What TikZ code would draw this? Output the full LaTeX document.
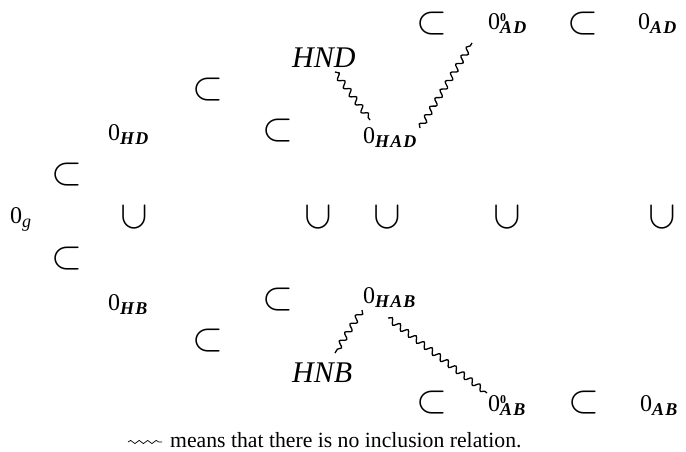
\documentclass[tikz,border=0pt]{standalone}
\usepackage{fontspec}
\setmainfont{Liberation Serif}
\usepackage{tikz}
\usetikzlibrary{decorations.pathmorphing}
\newcommand{\subfont}{\fontsize{18}{20}\selectfont\bfseries\itshape\addfontfeature{LetterSpace=6}}
\newcommand{\zsub}[1]{0\raisebox{-4pt}{\subfont #1}}
\newcommand{\zsubo}[1]{0\rlap{\raisebox{8pt}{\fontsize{12}{13}\selectfont\bfseries 0}}\raisebox{-4pt}{\subfont #1}}
\newcommand{\incl}{\scalebox{1.6}{$\subset$}}
\tikzset{
  set/.style={inner sep=0pt,anchor=base west,font=\fontsize{24}{28}\selectfont},
  rel/.style={inner sep=0pt,font=\fontsize{24.88}{28}\selectfont},
  relv/.style={rel,rotate=90},
  hn/.style={inner sep=0pt,anchor=base west,font=\fontsize{30}{33}\selectfont\itshape},
  nr/.style={line width=1.3pt,decorate,decoration={snake,segment length=10pt,amplitude=2.8pt}},
  note/.style={inner sep=0pt,anchor=base west,font=\fontsize{21.7}{26}\selectfont}
}
\begin{document}
\begin{tikzpicture}[x=1pt,y=-1pt]
\useasboundingbox (0,0) rectangle (686,452);
% upper chain
\node[rel] (c1) at (432,24) {\incl};
\node[set] (oad0) at (488,30) {\zsubo{AD}};
\node[rel] (c2) at (583,24) {\incl};
\node[set] (oad) at (638,30) {\zsub{AD}};
\node[hn] (hnd) at (292,67) {HND};
\node[rel] (c3) at (208,90) {\incl};
\node[set] (ohd) at (108,140) {\zsub{HD}};
\node[rel] (c4) at (278,131) {\incl};
\node[set] (ohad) at (363,143) {\zsub{HAD}};
\node[rel] (c5) at (67,175) {\incl};
% middle row
\node[set] (og) at (10,223) {0\raisebox{-4pt}{\fontsize{18}{20}\selectfont\itshape g}};
\foreach \x in {134,318,387,507,662}
  \node[relv] at (\x,217) {\incl};
% lower chain
\node[rel] (c6) at (67,259) {\incl};
\node[set] (ohb) at (108,310) {\zsub{HB}};
\node[rel] (c7) at (278,300) {\incl};
\node[set] (ohab) at (363,303) {\zsub{HAB}};
\node[rel] (c8) at (208,341) {\incl};
\node[hn] (hnb) at (292,382) {HNB};
\node[rel] (c9) at (432,403) {\incl};
\node[set] (oab0) at (488,411) {\zsubo{AB}};
\node[rel] (c10) at (584,403) {\incl};
\node[set] (oab) at (640,411) {\zsub{AB}};
% no inclusion
\draw[nr] ([xshift=43pt,yshift=-5pt]hnd.base west) -- ([xshift=7pt,yshift=23pt]ohad.base west);
\draw[nr] ([xshift=57pt,yshift=15pt]ohad.base west) -- ([xshift=-16pt,yshift=-13pt]oad0.base west);
\draw[nr] ([xshift=-1pt,yshift=-7pt]ohab.base west) -- ([xshift=43pt,yshift=29pt]hnb.base west);
\draw[nr] ([xshift=25pt,yshift=-15pt]ohab.base west) -- ([xshift=-1pt,yshift=18pt]oab0.base west);
% legend
\coordinate (wl) at (128,442);
\coordinate (wr) at (162,442);
\draw[nr,line width=0.7pt,decoration={snake,segment length=8.5pt,amplitude=1.6pt}] (wl) -- (wr);
\node[note] (txt) at (170,447) {means that there is no inclusion relation.};
\end{tikzpicture}
\end{document}
